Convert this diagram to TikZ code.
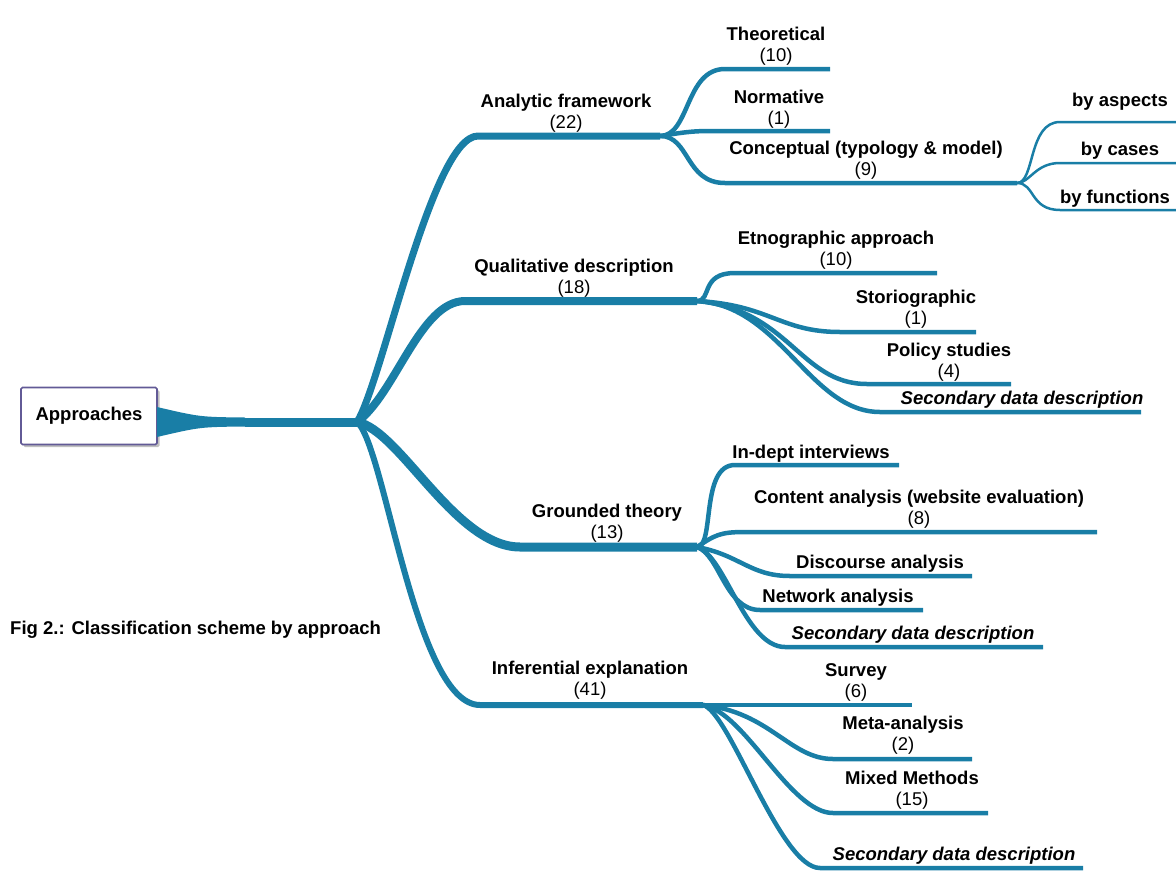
\documentclass[tikz,border=0pt]{standalone}
\usepackage{fontspec}
\setmainfont{Liberation Sans}
\usetikzlibrary{shadows}
\definecolor{branchblue}{RGB}{25,126,166}
\definecolor{rootframe}{RGB}{98,90,150}
\begin{document}
\begin{tikzpicture}[x=1pt, y=-1pt,
	lvlone/.style={draw=branchblue, line width=#1},
	lvltwo/.style={draw=branchblue, line width=4.5pt},
	lvlthree/.style={draw=branchblue, line width=2.5pt},
	leaf/.style={align=center, inner sep=0pt, yshift=-3pt, font=\fontsize{18.5}{21}\selectfont\bfseries},
	rootbox/.style={draw=rootframe, line width=1.6pt, rounded corners=1.5pt, fill=white, minimum width=136pt, minimum height=57pt, drop shadow={opacity=0.5, shadow xshift=2.5pt, shadow yshift=-2.5pt}, font=\fontsize{18.5}{21}\selectfont\bfseries}]
				\useasboundingbox (0,0) rectangle (1176,876);
				\node[rootbox] (approaches) at (89,416) {Approaches};
				\coordinate (taper) at (245,422);
				\coordinate (hub) at (357,422);
				\fill[branchblue] (157,407) .. controls (200,417) .. (245,417.5) -- (245,426.5) .. controls (200,427) .. (157,437) -- cycle;
				\draw[lvlone=9pt] (taper) -- (hub);
				\coordinate (af-hub) at (660,136);
				\coordinate (qd-hub) at (697,301);
				\coordinate (gt-hub) at (697,547);
				\coordinate (ie-hub) at (703,705);
				\coordinate (cp-hub) at (1017,183);
				\draw[lvlone=7pt] (hub) .. controls (382,383) and (432,136) .. (478,136) -- (af-hub);
				\draw[lvlone=8pt] (hub) .. controls (395,395) and (420,301) .. (465,301) -- (qd-hub);
				\draw[lvlone=9pt] (hub) .. controls (400,430) and (455,547) .. (520,547) -- (gt-hub);
				\draw[lvlone=6pt] (hub) .. controls (385,445) and (415,705) .. (480,705) -- (ie-hub);
				\node[leaf] (af) at (566,110) {Analytic framework\\
					\mdseries(22)};
				\node[leaf] (qd) at (574,275) {Qualitative description\\
					\mdseries(18)};
				\node[leaf] (gt) at (607,520) {Grounded theory\\
					\mdseries(13)};
				\node[leaf] (ie) at (590,677) {Inferential explanation\\
					\mdseries(41)};
				\draw[lvltwo] (af-hub) .. controls (690,136) and (685,69) .. (725,69) -- (830,69) coordinate (theo-end);
				\draw[lvltwo] (af-hub) .. controls (680,133) and (690,131) .. (710,131) -- (830,131) coordinate (norm-end);
				\draw[lvltwo] (af-hub) .. controls (690,136) and (685,183) .. (725,183) -- (cp-hub);
				\node[leaf] (theo) at (776,43) {Theoretical\\
					\mdseries(10)};
				\node[leaf] (norm) at (779,106) {Normative\\
					\mdseries(1)};
				\node[leaf] (conc) at (866,157) {Conceptual (typology \& model)\\
					\mdseries(9)};
				\draw[lvlthree] (cp-hub) .. controls (1035,183) and (1028,122) .. (1060,122) -- (1176,122) coordinate (asp-end);
				\draw[lvlthree] (cp-hub) .. controls (1030,183) and (1035,163) .. (1060,163) -- (1176,163) coordinate (cas-end);
				\draw[lvlthree] (cp-hub) .. controls (1035,183) and (1030,210) .. (1060,210) -- (1176,210) coordinate (fun-end);
				\node[leaf] (asp) at (1120,99) {by aspects};
				\node[leaf] (cas) at (1120,148) {by cases};
				\node[leaf] (fun) at (1115,196) {by functions};
				\draw[lvltwo] (qd-hub) .. controls (712,301) and (700,273) .. (735,273) -- (937,273) coordinate (etn-end);
				\draw[lvltwo] (qd-hub) .. controls (770,305) and (780,332) .. (840,332) -- (976,332) coordinate (sto-end);
				\draw[lvltwo] (qd-hub) .. controls (790,310) and (800,384) .. (867,384) -- (1011,384) coordinate (pol-end);
				\draw[lvltwo] (qd-hub) .. controls (780,305) and (810,412) .. (880,412) -- (1141,412) coordinate (sdq-end);
				\node[leaf] (etn) at (836,247) {Etnographic approach\\
					\mdseries(10)};
				\node[leaf] (sto) at (916,306) {Storiographic\\
					\mdseries(1)};
				\node[leaf] (pol) at (949,359) {Policy studies\\
					\mdseries(4)};
				\node[leaf] (sdq) at (1022,397) {\itshape Secondary data description};
				\draw[lvltwo] (gt-hub) .. controls (715,547) and (700,465) .. (735,465) -- (899,465) coordinate (ind-end);
				\draw[lvltwo] (gt-hub) .. controls (715,535) and (720,532) .. (745,532) -- (1097,532) coordinate (con-end);
				\draw[lvltwo] (gt-hub) .. controls (740,555) and (750,576) .. (790,576) -- (972,576) coordinate (dis-end);
				\draw[lvltwo] (gt-hub) .. controls (720,555) and (725,610) .. (760,610) -- (923,610) coordinate (net-end);
				\draw[lvltwo] (gt-hub) .. controls (725,555) and (745,647) .. (785,647) -- (1043,647) coordinate (sdg-end);
				\node[leaf] (ind) at (811,451) {In-dept interviews};
				\node[leaf] (con) at (919,506) {Content analysis (website evaluation)\\
					\mdseries(8)};
				\node[leaf] (dis) at (880,561) {Discourse analysis};
				\node[leaf] (net) at (838,595) {Network analysis};
				\node[leaf] (sdg) at (913,632) {\itshape Secondary data description};
				\draw[lvltwo] (ie-hub) -- (912,705) coordinate (sur-end);
				\draw[lvltwo] (ie-hub) .. controls (770,712) and (790,759) .. (833,759) -- (972,759) coordinate (met-end);
				\draw[lvltwo] (ie-hub) .. controls (745,712) and (790,813) .. (833,813) -- (988,813) coordinate (mix-end);
				\draw[lvltwo] (ie-hub) .. controls (730,712) and (780,868) .. (820,868) -- (1083,868) coordinate (sdi-end);
				\node[leaf] (sur) at (856,679) {Survey\\
					\mdseries(6)};
				\node[leaf] (met) at (903,732) {Meta-analysis\\
					\mdseries(2)};
				\node[leaf] (mix) at (912,787) {Mixed Methods\\
					\mdseries(15)};
				\node[leaf] (sdi) at (954,853) {\itshape Secondary data description};
				\node[leaf, anchor=west] (caption) at (10,627) {Fig 2.: Classification scheme by approach};
				\end{tikzpicture}
\end{document}
